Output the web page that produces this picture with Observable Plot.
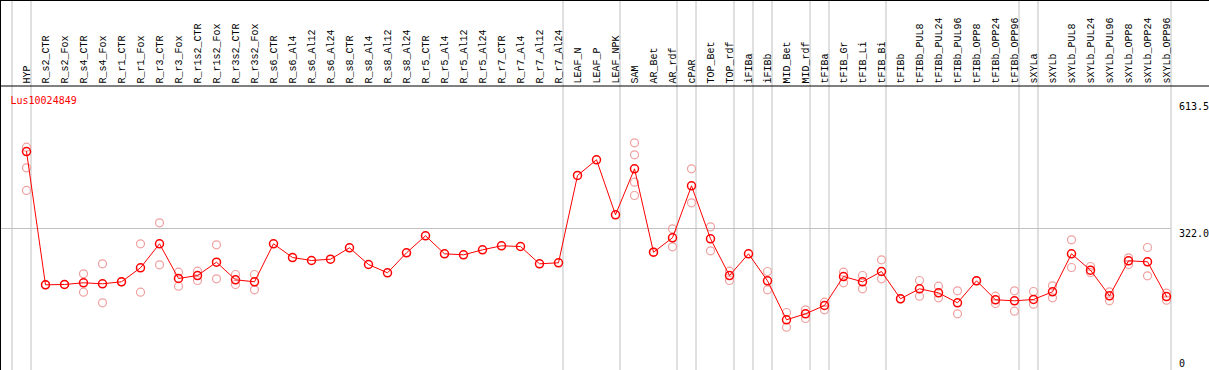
<!DOCTYPE html>
<html>
<head>
<meta charset="utf-8">
<script src="https://cdn.jsdelivr.net/npm/d3@7"></script>
<script src="https://cdn.jsdelivr.net/npm/@observablehq/plot@0.6"></script>
<style>
  html, body { margin: 0; padding: 0; background: #fff; }
  #chart svg { display: block; }
</style>
</head>
<body>
<div id="chart"></div>
<script>
const geneId = "Lus10024849";

const samples = [
  "HYP",
  "R_s2_CTR","R_s2_Fox","R_s4_CTR","R_s4_Fox","R_r1_CTR","R_r1_Fox","R_r3_CTR","R_r3_Fox",
  "R_r1s2_CTR","R_r1s2_Fox","R_r3s2_CTR","R_r3s2_Fox",
  "R_s6_CTR","R_s6_Al4","R_s6_Al12","R_s6_Al24","R_s8_CTR","R_s8_Al4","R_s8_Al12","R_s8_Al24",
  "R_r5_CTR","R_r5_Al4","R_r5_Al12","R_r5_Al24","R_r7_CTR","R_r7_Al4","R_r7_Al12","R_r7_Al24",
  "LEAF_N","LEAF_P","LEAF_NPK",
  "SAM","AR_Bet","AR_rdf","cPAR","TOP_Bet","TOP_rdf","iFIBa","iFIBb","MID_Bet","MID_rdf",
  "tFIBa","tFIB_Gr","tFIB_Li","tFIB_Bi",
  "tFIBb","tFIBb_PUL8","tFIBb_PUL24","tFIBb_PUL96","tFIBb_OPP8","tFIBb_OPP24","tFIBb_OPP96",
  "sXYLa",
  "sXYLb","sXYLb_PUL8","sXYLb_PUL24","sXYLb_PUL96","sXYLb_OPP8","sXYLb_OPP24","sXYLb_OPP96"
];

const meanValues = [
  498.7,
  192.8,193.5,197.4,195.1,199.7,231.8,286.9,207.3,
  214.1,244.7,204.3,199.7,
  286.9,255.4,248.6,251.5,277.7,239.4,220.3,266.2,
  305.3,263.9,261.6,273.1,282.3,280.7,241.0,243.3,
  443.7,479.7,353.5,
  459.0,267.6,300.7,420.0,298.4,214.1,263.9,202.0,112.5,126.2,
  145.3,211.8,199.7,223.3,
  160.7,183.6,174.4,151.5,202.0,158.4,156.1,
  159.1,
  176.7,263.9,226.3,167.5,247.9,245.6,165.9
];

const replicateValues = [
  [508.6,461.3,409.3],
  [192.8],[193.5],[218.0,175.8],[241.0,151.5],[199.7],[286.9,175.8],[335.1,238.7],[221.7,189.6],
  [224.0,202.7],[284.6,206.6],[216.4,193.5],[216.4,181.3],
  [],[],[],[],[],[],[],[],
  [],[],[],[],[],[],[],[],
  [],[],[],
  [518.7,491.2,428.3,397.7],[267.6],[321.3,280.0],[459.0,381.0],[325.9,270.8],[224.0,202.7],[],[223.3,181.3],[129.2,95.5],[135.4,115.4],
  [152.9,135.4],[221.7,197.4],[214.1,183.6],[250.2,206.6],
  [160.7],[202.7,166.6],[189.6,163.0],[179.0,126.2],[202.0],[166.6,149.9],[179.0,132.2],
  [177.4,148.3],
  [190.5,163.0],[296.1,232.5],[234.8,221.0],[176.7,156.1],[254.8,239.4],[278.4,213.4],[173.5,157.5]
];

const groupStarts = ["HYP","R_s2_CTR","LEAF_N","SAM","cPAR","TOP_Bet","iFIBa","iFIBb","MID_Bet","tFIBa","tFIB_Gr","tFIBb","sXYLa","sXYLb"];

const yTickValues = [613.5, 322, 0];
const yTickLabels = ["613.5", "322.0", "0"];
const gridValues = [322];

// derived tables
const meanData = samples.map((s, i) => ({sample: s, i, value: meanValues[i]}));
const repData = replicateValues.flatMap((vals, i) => vals.map(v => ({sample: samples[i], i, value: v})));
const boundaries = groupStarts.map(g => samples.indexOf(g)).concat([samples.length]);
const ticks = yTickValues.map((v, k) => ({value: v, label: yTickLabels[k]}));

const font = "DejaVu Sans Mono";
const labelFont = "Liberation Mono";
const grey = "#c0c0c0";

const chart = Plot.plot({
  width: 1209,
  height: 370,
  margin: 0,
  style: {background: "#fff", fontFamily: font, fontSize: "10px"},
  x: {type: "linear", domain: [0, samples.length - 1], range: [26, 1166], axis: null},
  y: {type: "linear", domain: [0, 613.5], range: [368.3, 101], axis: null},
  marks: [
    Plot.ruleY(gridValues, {x1: -2, x2: samples.length - 0.5, dx: -5, stroke: grey}),
    Plot.ruleX(boundaries, {x: d => d - 0.5, dx: -5, stroke: grey}),
    Plot.ruleY([613.5], {dy: -15.5, stroke: "black"}),
    Plot.text(samples, {
      x: (d, i) => i, frameAnchor: "top", dy: 83, rotate: -90,
      textAnchor: "start", lineAnchor: "middle", fill: "black",
      fontFamily: labelFont, fontSize: 10
    }),
    Plot.text([geneId], {frameAnchor: "top-left", dx: 10, dy: 96, textAnchor: "start", fill: "red", fontFamily: font, fontSize: 10}),
    Plot.text(ticks.filter(t => t.value > 0), {
      x: () => samples.length - 0.5, y: "value", text: "label", dx: 3, dy: 1,
      textAnchor: "start", lineAnchor: "top", fill: "black", fontFamily: font, fontSize: 10
    }),
    Plot.text(ticks.filter(t => t.value === 0), {
      x: () => samples.length - 0.5, y: "value", text: "label", dx: 3, dy: -2,
      textAnchor: "start", lineAnchor: "bottom", fill: "black", fontFamily: font, fontSize: 10
    }),
    Plot.dot(repData, {x: "i", y: "value", r: 4, stroke: "#f0a0a0", strokeWidth: 1.2, fill: "none"}),
    Plot.line(meanData, {x: "i", y: "value", stroke: "red", strokeWidth: 1}),
    Plot.dot(meanData, {x: "i", y: "value", r: 4, stroke: "red", strokeWidth: 1.5, fill: "none"}),
    Plot.frame({stroke: "black"})
  ]
});

document.getElementById("chart").appendChild(chart);
</script>
</body>
</html>
